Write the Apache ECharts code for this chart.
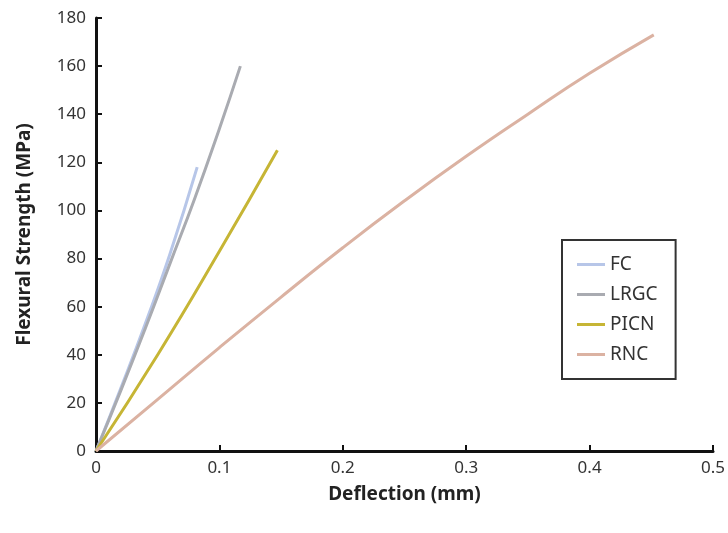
<!DOCTYPE html>
<html>
<head>
<meta charset="utf-8">
<script src="https://cdn.jsdelivr.net/npm/echarts@6/dist/echarts.min.js"></script>
<style>
  html, body { margin: 0; padding: 0; background: #fff; }
  #chart { width: 728px; height: 533px; }
</style>
</head>
<body>
<div id="chart"></div>
<script>
// 数据 (deflection mm, strength MPa)
var seriesNames = ['FC', 'LRGC', 'PICN', 'RNC'];
var fcData = [[0, 0], [0.02, 26], [0.04, 53], [0.06, 82], [0.082, 118]];
var lrgcData = [[0, 0], [0.02, 25], [0.04, 51], [0.06, 78], [0.08, 105], [0.1, 134], [0.117, 160]];
var picnData = [[0, 0], [0.05, 40], [0.1, 83], [0.147, 125]];
var rncData = [[0, 0], [0.05, 21.5], [0.1, 43], [0.15, 64], [0.2, 84.5], [0.25, 104], [0.3, 122.5], [0.35, 140], [0.4, 157], [0.452, 173]];
var colors = ['#b7c6e8', '#a9abb1', '#c6b535', '#dbb2a2'];

var font = 'Noto Sans';

function makeLine(name, data, color){
  return {
    name: name,
    type: 'line',
    data: data,
    smooth: 0.5,
    showSymbol: false,
    lineStyle: { color: color, width: 3 },
    itemStyle: { color: color }
  };
}

var option = {
  backgroundColor: '#fff',
  animation: false,
  grid: { left: 96, right: 15, top: 18, bottom: 82 },
  legend: {
    data: seriesNames,
    orient: 'vertical',
    left: 562,
    top: 240,
    icon: 'rect',
    itemWidth: 28,
    itemHeight: 3,
    itemGap: 11,
    padding: [15, 18, 15, 15],
    borderColor: '#333',
    borderWidth: 2,
    textStyle: { fontFamily: font, fontSize: 19, color: '#333' }
  },
  xAxis: {
    type: 'value',
    min: 0,
    max: 0.5,
    interval: 0.1,
    name: 'Deflection (mm)',
    nameLocation: 'middle',
    nameGap: 34,
    nameTextStyle: { fontFamily: font, fontSize: 19, fontWeight: 'bold', color: '#222' },
    axisLine: { show: true, lineStyle: { color: '#111', width: 3 } },
    axisTick: { show: true, inside: true, length: 6, lineStyle: { color: '#111', width: 2 } },
    axisLabel: { fontFamily: font, fontSize: 17, color: '#333', margin: 9 },
    splitLine: { show: false }
  },
  yAxis: {
    type: 'value',
    min: 0,
    max: 180,
    interval: 20,
    name: 'Flexural Strength (MPa)',
    nameLocation: 'middle',
    nameGap: 62,
    nameTextStyle: { fontFamily: font, fontSize: 19, fontWeight: 'bold', color: '#222' },
    axisLine: { show: true, lineStyle: { color: '#111', width: 3 } },
    axisTick: { show: true, inside: true, length: 6, lineStyle: { color: '#111', width: 2 } },
    axisLabel: { fontFamily: font, fontSize: 17, color: '#333', margin: 10 },
    splitLine: { show: false }
  },
  series: [
    makeLine('FC', fcData, colors[0]),
    makeLine('LRGC', lrgcData, colors[1]),
    makeLine('PICN', picnData, colors[2]),
    makeLine('RNC', rncData, colors[3])
  ]
};

var myChart = echarts.init(document.getElementById('chart'));
option && myChart.setOption(option);
window.addEventListener('resize', function () { myChart.resize(); });
</script>
</body>
</html>
